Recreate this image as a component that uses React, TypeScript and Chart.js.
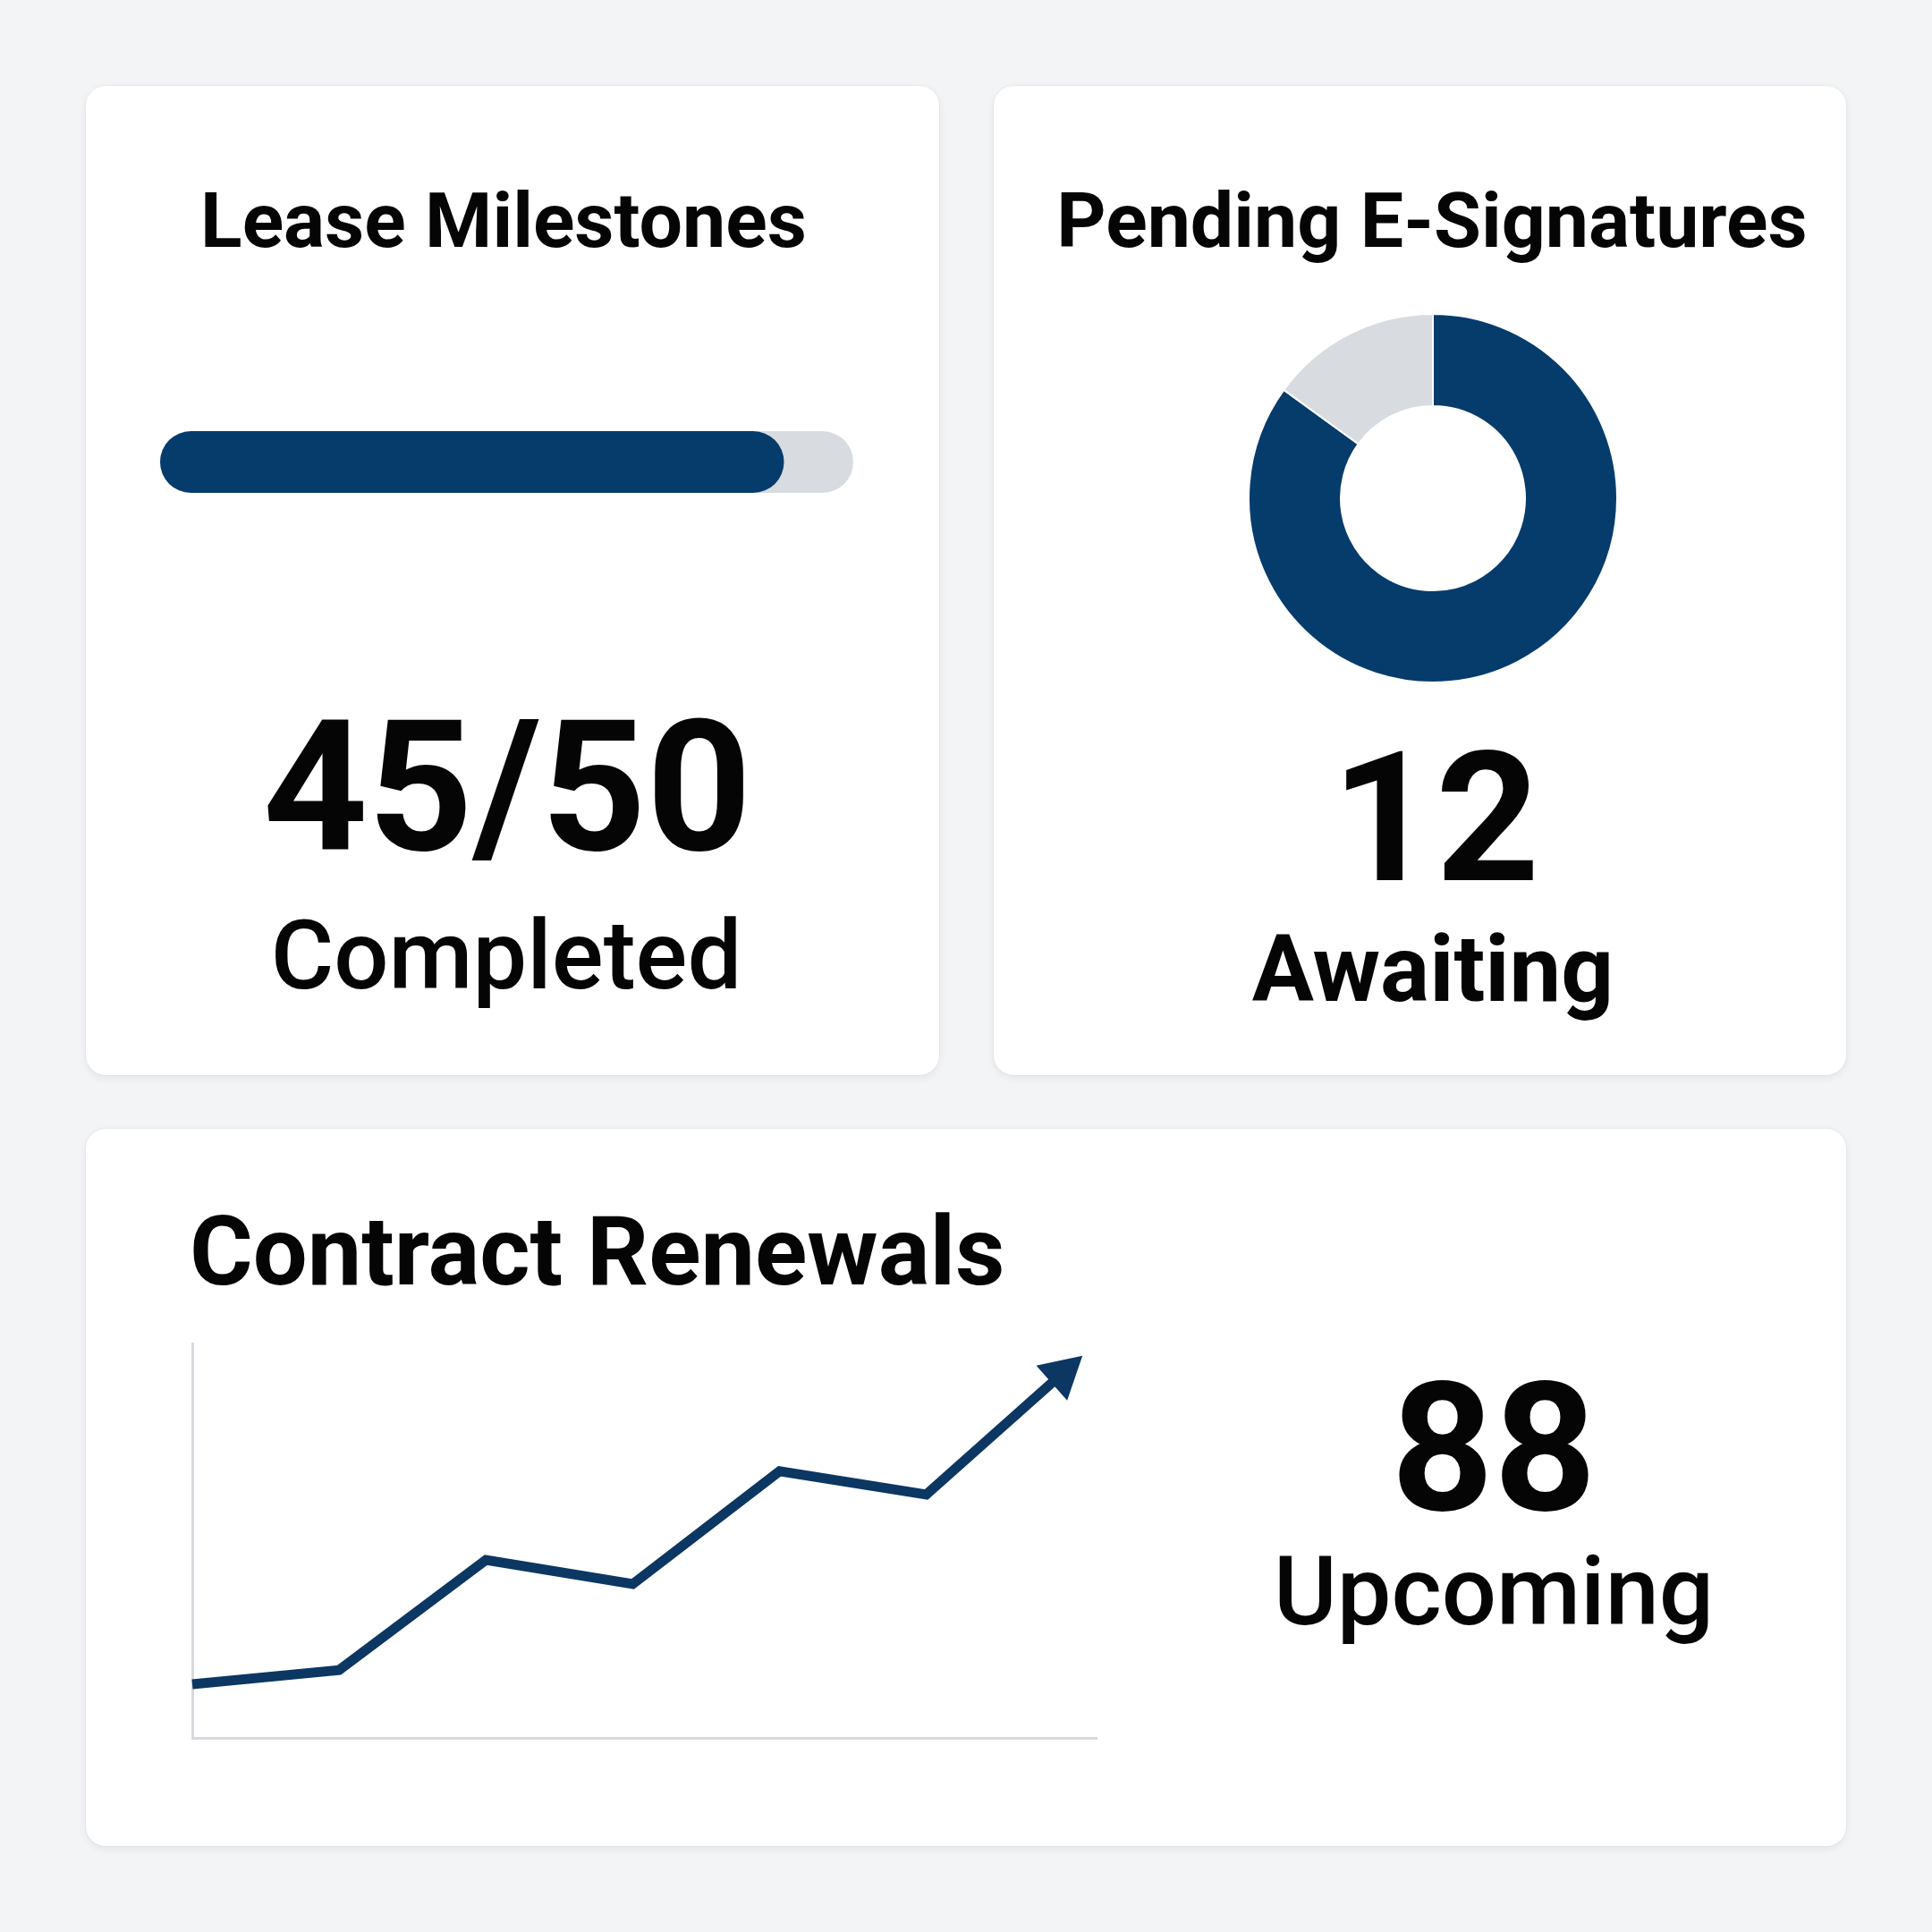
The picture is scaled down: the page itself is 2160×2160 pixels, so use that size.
import { useEffect, useRef, type FC, type CSSProperties } from 'react';
import Chart from 'chart.js/auto';

// lease milestones progress
const milestoneLabels = ['Lease Milestones'];
const milestonesCompleted = [45];
const milestonesTotal = [50];

// e-signature split
const signatureLabels = ['Signed', 'Awaiting'];
const signatureCounts = [68, 12];

// contract renewals trend
const renewalPeriods = [0, 1, 2, 3, 4, 5, 6];
const renewalValues = [13.6, 17.2, 45.1, 39.0, 67.6, 61.7, 94.8];
const upcomingRenewals = 88;

const NAVY = '#053c6c';
const LINE_NAVY = '#0c3763';
const TRACK = '#d8dbe0';
const AXIS = '#d6d9dd';
const FONT = 'Roboto, "Noto Sans", sans-serif';

const Label: FC<{
    text: string
    x: number
    baseline: number
    size: number
    weight: number
    align?: 'center' | 'left'
}> = ({ text, x, baseline, size, weight, align = 'center' }) => {
    const style: CSSProperties = {
        position: 'absolute',
        left: x,
        top: baseline - 0.842 * size,
        fontFamily: FONT,
        fontSize: size,
        fontWeight: weight,
        lineHeight: 1,
        whiteSpace: 'nowrap',
        color: '#050505',
        transform: align === 'center' ? 'translateX(-50%)' : undefined
    };
    return <div style={style}>{text}</div>;
};

const Card: FC<{ left: number, top: number, width: number, height: number }> = ({ left, top, width, height }) => (
    <div
        style={{
            position: 'absolute',
            left,
            top,
            width,
            height,
            background: '#ffffff',
            borderRadius: 22,
            boxShadow: '0 3px 10px rgba(15, 23, 42, 0.07), 0 0 0 1px rgba(15, 23, 42, 0.03)'
        }}
    />
);

// Chart.js caps bar corner radius at a quarter of the bar height,
// so the bars are painted as full pills from the element geometry.
const pillBars = {
    id: 'pillBars',
    beforeDatasetDraw(chart: Chart, args: any) {
        const ctx = chart.ctx;
        args.meta.data.forEach((bar: any) => {
            const { x, y, base, height } = bar.getProps(['x', 'y', 'base', 'height'], true);
            const left = Math.min(x, base);
            const width = Math.abs(x - base);
            ctx.save();
            ctx.beginPath();
            ctx.roundRect(left, y - height / 2, width, height, height / 2);
            ctx.fillStyle = bar.options.backgroundColor;
            ctx.fill();
            ctx.restore();
        });
        return false;
    }
};

const ProgressBar: FC = () => {
    const canvas = useRef<HTMLCanvasElement>(null);

    useEffect(() => {
        const chart = new Chart(
            // @ts-expect-error next
            canvas.current,
            {
                type: 'bar',
                data: {
                    labels: milestoneLabels,
                    datasets: [
                        {
                            label: 'Completed',
                            data: milestonesCompleted,
                            backgroundColor: NAVY,
                            barPercentage: 1,
                            categoryPercentage: 1,
                            grouped: false,
                            order: 0
                        },
                        {
                            label: 'Total',
                            data: milestonesTotal,
                            backgroundColor: TRACK,
                            barPercentage: 1,
                            categoryPercentage: 1,
                            grouped: false,
                            order: 1
                        }
                    ]
                },
                options: {
                    indexAxis: 'y',
                    animation: false,
                    responsive: false,
                    layout: { padding: 0 },
                    scales: {
                        x: { display: false, min: 0, max: 50 },
                        y: { display: false }
                    },
                    plugins: {
                        legend: { display: false },
                        tooltip: { enabled: false }
                    }
                },
                plugins: [pillBars]
            }
        );

        return () => {
            chart.destroy();
        }
    }, []);

    return (
        <canvas
            ref={canvas}
            width={775}
            height={69}
            style={{ position: 'absolute', left: 179, top: 482, width: 775, height: 69 }}
            aria-label="Lease milestones progress"
            role="img"
        ></canvas>
    );
}

const SignatureDonut: FC = () => {
    const canvas = useRef<HTMLCanvasElement>(null);

    useEffect(() => {
        const chart = new Chart(
            // @ts-expect-error next
            canvas.current,
            {
                type: 'doughnut',
                data: {
                    labels: signatureLabels,
                    datasets: [{
                        data: signatureCounts,
                        backgroundColor: [NAVY, TRACK],
                        borderColor: '#ffffff',
                        borderWidth: 2
                    }]
                },
                options: {
                    animation: false,
                    responsive: false,
                    cutout: '50%',
                    layout: { padding: 3 },
                    plugins: {
                        legend: { display: false },
                        tooltip: { enabled: false }
                    }
                }
            }
        );

        return () => {
            chart.destroy();
        }
    }, []);

    return (
        <canvas
            ref={canvas}
            width={420}
            height={420}
            style={{ position: 'absolute', left: 1392, top: 347, width: 420, height: 420 }}
            aria-label="Pending e-signatures"
            role="img"
        ></canvas>
    );
}

const arrowHead = {
    id: 'arrowHead',
    afterDatasetsDraw(chart: Chart) {
        const points = chart.getDatasetMeta(0).data;
        if (points.length < 2) return;
        const a = points[points.length - 2];
        const b = points[points.length - 1];
        const angle = Math.atan2(b.y - a.y, b.x - a.x);
        const ctx = chart.ctx;
        ctx.save();
        ctx.translate(b.x, b.y);
        ctx.rotate(angle);
        ctx.beginPath();
        ctx.moveTo(14, 0);
        ctx.lineTo(-32, -26);
        ctx.lineTo(-32, 26);
        ctx.closePath();
        ctx.fillStyle = LINE_NAVY;
        ctx.fill();
        ctx.restore();
    }
};

const RenewalsLine: FC = () => {
    const canvas = useRef<HTMLCanvasElement>(null);

    useEffect(() => {
        const chart = new Chart(
            // @ts-expect-error next
            canvas.current,
            {
                type: 'line',
                data: {
                    datasets: [{
                        label: 'Renewals',
                        data: renewalPeriods.map((p, i) => ({ x: p, y: renewalValues[i] })),
                        borderColor: LINE_NAVY,
                        borderWidth: 11,
                        borderJoinStyle: 'miter',
                        pointRadius: 0,
                        tension: 0,
                        fill: false,
                        clip: false
                    }]
                },
                options: {
                    animation: false,
                    responsive: false,
                    layout: { padding: { left: 10, top: 12, right: 19, bottom: 17 } },
                    scales: {
                        x: {
                            type: 'linear',
                            min: 0,
                            max: 6.16,
                            grid: { display: false, drawTicks: false },
                            ticks: { display: false },
                            border: { display: true, color: AXIS, width: 3 }
                        },
                        y: {
                            min: 0,
                            max: 100,
                            grid: { display: false, drawTicks: false },
                            ticks: { display: false },
                            border: { display: true, color: AXIS, width: 3 }
                        }
                    },
                    plugins: {
                        legend: { display: false },
                        tooltip: { enabled: false }
                    }
                },
                plugins: [arrowHead]
            }
        );

        return () => {
            chart.destroy();
        }
    }, []);

    return (
        <canvas
            ref={canvas}
            width={1040}
            height={470}
            style={{ position: 'absolute', left: 205, top: 1490, width: 1040, height: 470 }}
            aria-label="Contract renewals trend"
            role="img"
        ></canvas>
    );
}

const App: FC = () => {
    return (
        <div
            style={{
                position: 'fixed',
                left: 0,
                top: 0,
                width: 2160,
                height: 2160,
                background: '#f3f4f6',
                overflow: 'hidden'
            }}
        >
            <Card left={96} top={96} width={954} height={1106} />
            <Card left={1111} top={96} width={953} height={1106} />
            <Card left={96} top={1262} width={1968} height={802} />

            <Label text="Lease Milestones" x={563} baseline={276} size={86} weight={700} />
            <ProgressBar />
            <Label text={`${milestonesCompleted[0]}/${milestonesTotal[0]}`} x={567} baseline={951} size={205} weight={700} />
            <Label text="Completed" x={566} baseline={1105} size={108} weight={500} />

            <Label text="Pending E-Signatures" x={1601} baseline={276} size={86} weight={700} />
            <SignatureDonut />
            <Label text={String(signatureCounts[1])} x={1605} baseline={985} size={203} weight={700} />
            <Label text="Awaiting" x={1602} baseline={1119} size={103} weight={700} />

            <Label text="Contract Renewals" x={212} baseline={1436} size={108} weight={700} align="left" />
            <RenewalsLine />
            <Label text={String(upcomingRenewals)} x={1670} baseline={1688} size={200} weight={700} />
            <Label text="Upcoming" x={1670} baseline={1816} size={108} weight={500} />
        </div>
    );
}

export default App;
